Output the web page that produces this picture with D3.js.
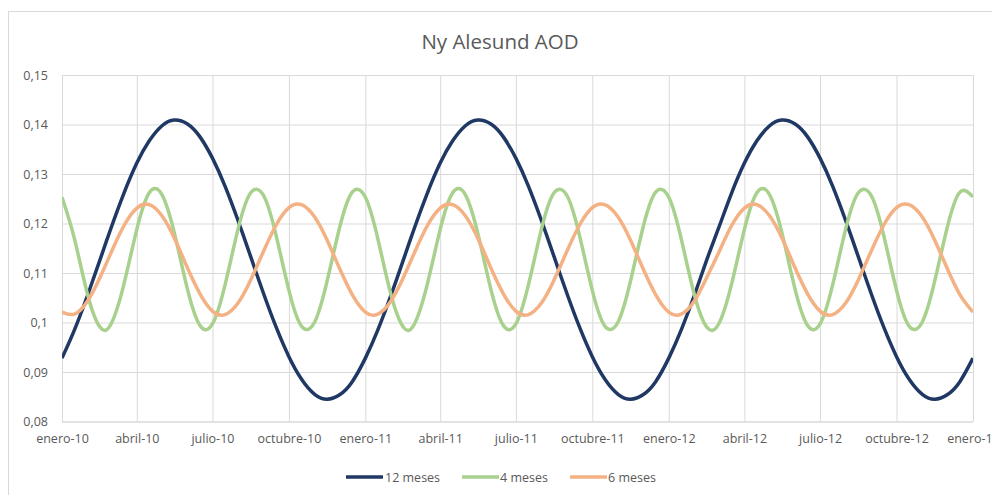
<!DOCTYPE html>
<html>
<head>
<meta charset="utf-8">
<script src="https://cdn.jsdelivr.net/npm/d3@7"></script>
<style>
  html, body { margin: 0; padding: 0; background: #fff; }
  svg { display: block; font-family: "Open Sans", "Noto Sans", sans-serif; }
</style>
</head>
<body>
<svg id="chart" width="992" height="495"></svg>
<script>
// Semi-monthly AOD values (1st and 16th of each month), Jan 2010 – Jan 2013
const seriesNames = ["12 meses", "4 meses", "6 meses"];
const seriesColors = ["#203864", "#a9d18e", "#f4b183"];

const meses12 = [
  0.0928,0.0985,0.1056,0.1128,0.1191,0.1259,0.1322,0.1367,0.1397,0.1409,0.1401,0.1375,
  0.1332,0.1276,0.1205,0.1133,0.1056,0.0989,0.0931,0.0886,0.0855,0.0845,0.0854,0.0880,
  0.0928,0.0985,0.1056,0.1128,0.1191,0.1259,0.1322,0.1367,0.1397,0.1409,0.1401,0.1375,
  0.1332,0.1276,0.1205,0.1133,0.1056,0.0989,0.0931,0.0886,0.0855,0.0845,0.0854,0.0880,
  0.0928,0.0985,0.1056,0.1128,0.1191,0.1259,0.1322,0.1367,0.1397,0.1409,0.1401,0.1375,
  0.1332,0.1276,0.1205,0.1133,0.1056,0.0989,0.0931,0.0886,0.0855,0.0845,0.0854,0.0880,
  0.0928
];
const meses4 = [
  0.1253,0.1169,0.1055,0.0990,0.0997,0.1074,0.1188,0.1262,0.1259,0.1182,0.1067,0.0994,
  0.0997,0.1075,0.1190,0.1262,0.1255,0.1173,0.1065,0.0993,0.1001,0.1084,0.1192,0.1263,
  0.1253,0.1169,0.1055,0.0990,0.0997,0.1074,0.1188,0.1262,0.1259,0.1182,0.1067,0.0994,
  0.0997,0.1075,0.1190,0.1262,0.1255,0.1173,0.1065,0.0993,0.1001,0.1084,0.1192,0.1263,
  0.1253,0.1169,0.1055,0.0990,0.0997,0.1074,0.1188,0.1262,0.1259,0.1182,0.1067,0.0994,
  0.0997,0.1075,0.1190,0.1262,0.1255,0.1173,0.1065,0.0993,0.1001,0.1084,0.1192,0.1263,
  0.1254
];
const meses6 = [
  0.1021,0.1017,0.1044,0.1092,0.1141,0.1194,0.1231,0.1238,0.1216,0.1171,0.1110,0.1058,
  0.1023,0.1016,0.1040,0.1086,0.1146,0.1198,0.1232,0.1238,0.1213,0.1166,0.1109,0.1057,
  0.1021,0.1017,0.1044,0.1092,0.1141,0.1194,0.1231,0.1238,0.1216,0.1171,0.1110,0.1058,
  0.1023,0.1016,0.1040,0.1086,0.1146,0.1198,0.1232,0.1238,0.1213,0.1166,0.1109,0.1057,
  0.1021,0.1017,0.1044,0.1092,0.1141,0.1194,0.1231,0.1238,0.1216,0.1171,0.1110,0.1058,
  0.1023,0.1016,0.1040,0.1086,0.1146,0.1198,0.1232,0.1238,0.1213,0.1166,0.1109,0.1057,
  0.1021
];

const xTickLabels = [
  "enero-10","abril-10","julio-10","octubre-10",
  "enero-11","abril-11","julio-11","octubre-11",
  "enero-12","abril-12","julio-12","octubre-12","enero-13"
];
const yTickValues = [0.08, 0.09, 0.10, 0.11, 0.12, 0.13, 0.14, 0.15];
const yTickLabels = ["0,08","0,09","0,1","0,11","0,12","0,13","0,14","0,15"];

const startDate = new Date(Date.UTC(2010, 0, 1));
const endDate = new Date(Date.UTC(2013, 0, 1));

// sample dates: 1st and 16th of every month, then the closing date
const sampleDates = d3.utcMonths(startDate, endDate)
  .flatMap(m => [m, d3.utcDay.offset(m, 15)])
  .concat([endDate]);
const xTickDates = d3.utcMonth.every(3).range(startDate, d3.utcDay.offset(endDate, 1));

const svg = d3.select("#chart");
const textColor = "#595959";
const gridColor = "#d9d9d9";

// outer chart frame
svg.append("rect")
  .attr("x", 8.5).attr("y", 11.5)
  .attr("width", 1000).attr("height", 500)
  .attr("fill", "#fff").attr("stroke", gridColor).attr("stroke-width", 1);

const plot = { left: 62, right: 973, top: 75, bottom: 421.5 };

const x = d3.scaleUtc().domain([startDate, endDate]).range([plot.left, plot.right]);
const y = d3.scaleLinear().domain([0.08, 0.15]).range([plot.bottom, plot.top]);

// title
svg.append("text")
  .attr("x", 500).attr("y", 41)
  .attr("text-anchor", "middle").attr("dominant-baseline", "central")
  .attr("fill", textColor).attr("font-size", 20.5)
  .text("Ny Alesund AOD");

// horizontal gridlines + y labels
const yAxis = d3.axisLeft(y)
  .tickValues(yTickValues)
  .tickFormat((d, i) => yTickLabels[i])
  .tickSize(-(plot.right - plot.left))
  .tickPadding(14);
const gy = svg.append("g")
  .attr("transform", `translate(${plot.left},0)`)
  .call(yAxis);
gy.select(".domain").remove();
gy.selectAll(".tick line").attr("stroke", gridColor).attr("stroke-width", 1);
gy.selectAll(".tick text")
  .attr("fill", textColor).attr("font-size", 12.5)
  .attr("font-family", "'Open Sans', sans-serif");

// vertical gridlines + x labels
const xAxis = d3.axisBottom(x)
  .tickValues(xTickDates)
  .tickFormat((d, i) => xTickLabels[i])
  .tickSize(-(plot.bottom - plot.top))
  .tickPadding(13);
const gx = svg.append("g")
  .attr("transform", `translate(0,${plot.bottom})`)
  .call(xAxis);
gx.select(".domain").attr("stroke", gridColor).attr("stroke-width", 1)
  .attr("d", `M${plot.left},0.5H${plot.right}`);
gx.selectAll(".tick line").attr("stroke", gridColor).attr("stroke-width", 1);
gx.selectAll(".tick text")
  .attr("fill", textColor).attr("font-size", 12.5)
  .attr("font-family", "'Open Sans', sans-serif");

// clip the series to the plot area
svg.append("clipPath").attr("id", "plotClip")
  .append("rect")
  .attr("x", plot.left).attr("y", plot.top - 10)
  .attr("width", plot.right - plot.left).attr("height", plot.bottom - plot.top + 20);

const allSeries = [meses12, meses4, meses6];
const line = d3.line()
  .x((d, i) => x(sampleDates[i]))
  .y(d => y(d))
  .curve(d3.curveNatural);

// draw order: 12 meses, 4 meses, 6 meses (last one on top)
svg.append("g").attr("clip-path", "url(#plotClip)")
  .selectAll("path")
  .data(allSeries)
  .join("path")
  .attr("d", d => line(d))
  .attr("fill", "none")
  .attr("stroke", (d, i) => seriesColors[i])
  .attr("stroke-width", 3.5)
  .attr("stroke-linejoin", "round");

// legend
const legendItems = [
  { x1: 346, x2: 383, tx: 385 },
  { x1: 462, x2: 499, tx: 500 },
  { x1: 570, x2: 607, tx: 608 }
];
const legend = svg.append("g");
legendItems.forEach((it, i) => {
  legend.append("line")
    .attr("x1", it.x1).attr("x2", it.x2)
    .attr("y1", 477).attr("y2", 477)
    .attr("stroke", seriesColors[i]).attr("stroke-width", 3.5);
  legend.append("text")
    .attr("x", it.tx).attr("y", 477)
    .attr("dominant-baseline", "central")
    .attr("fill", textColor).attr("font-size", 12.5)
    .text(seriesNames[i]);
});
</script>
</body>
</html>
